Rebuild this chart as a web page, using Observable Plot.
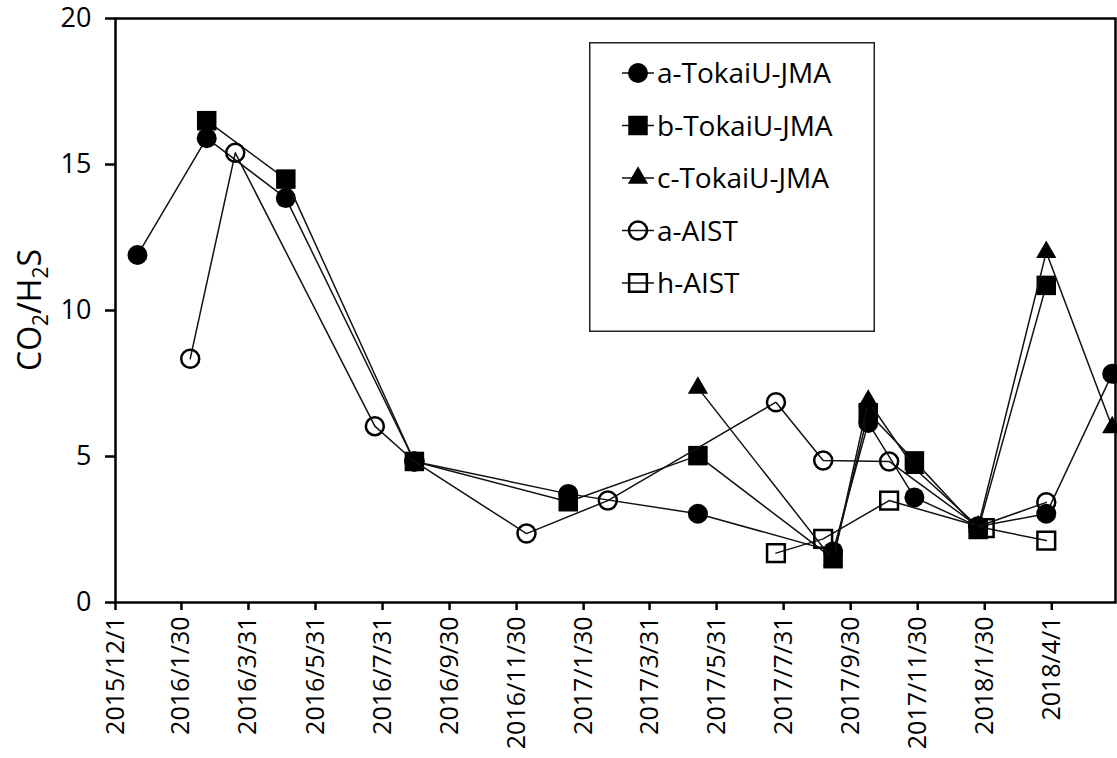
<!DOCTYPE html>
<html><head><meta charset="utf-8">
<script src="https://cdn.jsdelivr.net/npm/d3@7"></script>
<script src="https://cdn.jsdelivr.net/npm/@observablehq/plot@0.6"></script>
<style>
body{margin:0;background:#fff;font-family:"Open Sans",sans-serif;}
#wrap{position:relative;width:1117px;height:758px;overflow:hidden;}
#legend{position:absolute;left:589px;top:42px;}
</style></head><body><div id="wrap"></div>
<script>
// ---- data ----
const seriesNames = ["a-TokaiU-JMA","b-TokaiU-JMA","c-TokaiU-JMA","a-AIST","h-AIST"];

const aTokaiDates = ["2015/12/21","2016/2/22","2016/5/4","2016/8/29","2017/1/16","2017/5/14","2017/9/14","2017/10/16","2017/11/27","2018/1/24","2018/3/27","2018/5/26"];
const aTokaiValues = [11.9,15.9,13.85,4.83,3.72,3.04,1.75,6.15,3.6,2.6,3.04,7.83];

const bTokaiDates = ["2016/2/22","2016/5/4","2016/8/29","2017/1/16","2017/5/14","2017/9/14","2017/10/16","2017/11/27","2018/1/24","2018/3/27"];
const bTokaiValues = [16.5,14.5,4.83,3.45,5.03,1.5,6.5,4.85,2.5,10.86];

const cTokaiDates = ["2017/5/14","2017/9/14","2017/10/16","2017/11/27","2018/1/24","2018/3/27","2018/5/26"];
const cTokaiValues = [7.35,1.45,6.9,4.6,2.6,12.0,6.0];

const aAistDates = ["2016/2/7","2016/3/19","2016/7/24","2016/8/29","2016/12/9","2017/2/21","2017/7/24","2017/9/5","2017/11/4","2018/1/24","2018/3/27"];
const aAistValues = [8.35,15.4,6.04,4.83,2.36,3.49,6.86,4.86,4.83,2.6,3.43];

const hAistDates = ["2017/7/24","2017/9/5","2017/11/4","2018/1/30","2018/3/27"];
const hAistValues = [1.69,2.18,3.49,2.55,2.12];

const xTickLabels = ["2015/12/1","2016/1/30","2016/3/31","2016/5/31","2016/7/31","2016/9/30","2016/11/30","2017/1/30","2017/3/31","2017/5/31","2017/7/31","2017/9/30","2017/11/30","2018/1/30","2018/4/1"];
const yTicks = [0,5,10,15,20];

// ---- build ----
const parse = d3.utcParse("%Y/%m/%d");
const fmt = d3.utcFormat("%Y/%-m/%-d");
function rows(name, dates, vals){ return dates.map((d,i)=>({series:name, date:parse(d), value:vals[i]})); }
const data = [
  rows(seriesNames[0], aTokaiDates, aTokaiValues),
  rows(seriesNames[1], bTokaiDates, bTokaiValues),
  rows(seriesNames[2], cTokaiDates, cTokaiValues),
  rows(seriesNames[3], aAistDates, aAistValues),
  rows(seriesNames[4], hAistDates, hAistValues)
];
const styles = [
  {symbol:"circle", r:10, fill:"black", stroke:"none", strokeWidth:0},
  {symbol:"square", r:11, fill:"black", stroke:"none", strokeWidth:0},
  {symbol:"triangle", r:7.5, fill:"black", stroke:"none", strokeWidth:0},
  {symbol:"circle", r:9, fill:"none", stroke:"black", strokeWidth:2.5},
  {symbol:"square", r:10, fill:"none", stroke:"black", strokeWidth:2.5}
];

const seriesMarks = [];
data.forEach((d,i)=>{
  seriesMarks.push(Plot.line(d, {x:"date", y:"value", stroke:"#111", strokeWidth:1.5}));
  seriesMarks.push(Plot.dot(d, {x:"date", y:"value", ...styles[i]}));
});

const plot = Plot.plot({
  width:1117, height:758,
  marginLeft:115, marginTop:18, marginBottom:156, marginRight:2,
  style:{fontFamily:"'Open Sans', sans-serif", background:"white", color:"black", overflow:"hidden"},
  x:{type:"utc", domain:[parse("2015/12/1"), parse("2018/5/29")]},
  y:{domain:[0,20]},
  marks:[
    Plot.axisY({ticks:yTicks, tickSize:10, tickPadding:14, fontSize:27, label:null, strokeWidth:2.5}),
    Plot.axisX({ticks:xTickLabels.map(parse), tickFormat:fmt, tickRotate:-90, tickSize:8, tickPadding:6, fontSize:25, label:null, strokeWidth:2.5}),
    ...seriesMarks,
    Plot.frame({stroke:"black", strokeWidth:2.5})
  ]
});
document.getElementById("wrap").appendChild(plot);

// y title with subscripts
const svg = d3.select(plot);
const t = svg.append("text")
  .attr("transform","translate(41,310) rotate(-90)")
  .attr("text-anchor","middle")
  .attr("font-size",32)
  .attr("font-family","'Open Sans', sans-serif")
  .attr("fill","black");
t.append("tspan").text("CO");
t.append("tspan").attr("font-size",21).attr("dy",7).text("2");
t.append("tspan").attr("dy",-7).text("/H");
t.append("tspan").attr("font-size",21).attr("dy",7).text("2");
t.append("tspan").attr("dy",-7).text("S");

// legend
const lw = 286, lh = 290;
const leg = d3.select("#wrap").append("svg").attr("id","legend").attr("width",lw).attr("height",lh);
leg.append("rect").attr("x",0.75).attr("y",0.75).attr("width",lw-1.5).attr("height",lh-1.5)
  .attr("fill","white").attr("stroke","#222").attr("stroke-width",1.5);
const symMap = {circle:d3.symbolCircle, square:d3.symbolSquare, triangle:d3.symbolTriangle};
seriesNames.forEach((name,i)=>{
  const y = 31 + i*52.5;
  const g = leg.append("g").attr("transform",`translate(0,${y})`);
  g.append("line").attr("x1",33).attr("x2",65).attr("y1",0).attr("y2",0).attr("stroke","#111").attr("stroke-width",1.5);
  const s = styles[i];
  g.append("path").attr("transform","translate(49,0)")
    .attr("d", d3.symbol(symMap[s.symbol], s.r*s.r*Math.PI)())
    .attr("fill", s.fill).attr("stroke", s.stroke === "none" ? null : s.stroke).attr("stroke-width", s.strokeWidth);
  g.append("text").attr("x",68).attr("y",0).attr("dy","0.36em")
    .attr("font-size",28).attr("font-family","'Open Sans', sans-serif").attr("fill","black").text(name);
});
</script>
</body></html>
